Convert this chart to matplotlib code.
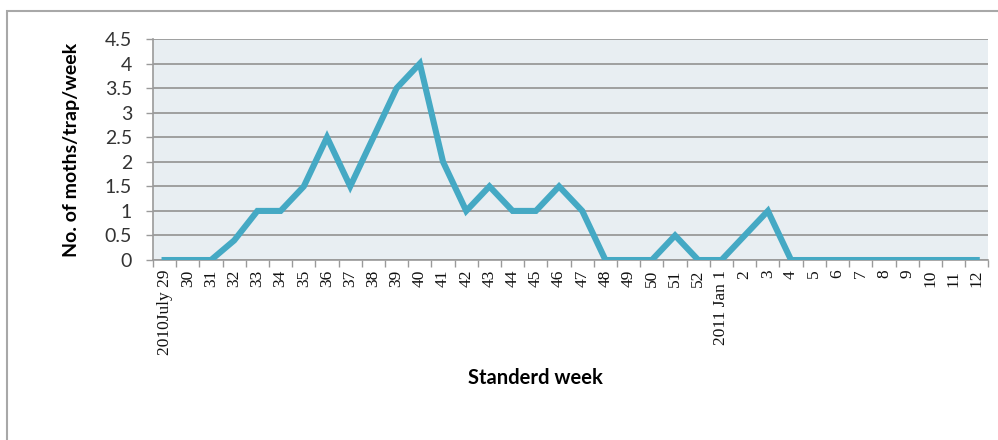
import matplotlib.pyplot as plt
from matplotlib.patches import Rectangle

# standard weeks, July 2010 to March 2011
weeks = ["2010July 29", "30", "31", "32", "33", "34", "35", "36", "37", "38",
         "39", "40", "41", "42", "43", "44", "45", "46", "47", "48",
         "49", "50", "51", "52", "2011 Jan 1", "2", "3", "4", "5", "6",
         "7", "8", "9", "10", "11", "12"]
# moths caught per trap per week
moths = [0, 0, 0, 0.4, 1, 1, 1.5, 2.5, 1.5, 2.5,
         3.5, 4, 2, 1, 1.5, 1, 1, 1.5, 1, 0,
         0, 0, 0.5, 0, 0, 0.5, 1, 0, 0, 0,
         0, 0, 0, 0, 0, 0]
yticks = [0, 0.5, 1, 1.5, 2, 2.5, 3, 3.5, 4, 4.5]
ylabels = ["0", "0.5", "1", "1.5", "2", "2.5", "3", "3.5", "4", "4.5"]

fig = plt.figure(figsize=(9.98, 4.4), dpi=100)
fig.patches.append(Rectangle((0.007, -0.1), 1.1, 1.075, transform=fig.transFigure,
                             fill=False, edgecolor="#a8a8a8", linewidth=1.5))

ax = fig.add_axes([0.1533, 0.409, 0.837, 0.5023])
ax.set_facecolor("#e8eef2")
x = list(range(len(weeks)))
ax.plot(x, moths, color="#45a9c4", linewidth=4.4, solid_joinstyle="miter", zorder=3)

ax.set_xlim(-0.5, len(weeks) - 0.5)
ax.set_ylim(0, 4.5)
ax.set_yticks(yticks)
ax.set_yticklabels(ylabels, fontsize=14, family="Lato", color="#333333")
ax.yaxis.grid(True, color="#999999", linewidth=1.3)
ax.set_axisbelow(True)

ax.set_xticks(x)
ax.set_xticklabels(weeks, rotation=90, family="Liberation Serif", fontsize=12.5,
                   va="top", color="#111111")
ax.set_xticks([i - 0.5 for i in range(len(weeks) + 1)], minor=True)
ax.tick_params(axis="x", which="major", length=0, pad=7)
ax.tick_params(axis="x", which="minor", length=5, color="#9a9a9a", width=1)
ax.tick_params(axis="y", length=5, color="#9a9a9a", width=1, pad=10)

for s in ["top", "right"]:
    ax.spines[s].set_visible(False)
for s in ["left", "bottom"]:
    ax.spines[s].set_color("#9a9a9a")
    ax.spines[s].set_linewidth(1.2)

ax.set_ylabel("No. of moths/trap/week", fontsize=14, fontweight="bold",
              family="Lato", labelpad=18)
fig.text(0.537, 0.14, "Standerd week", ha="center", va="center",
         fontsize=14.5, fontweight="bold", family="Lato")

fig.savefig("out.png", dpi=100)
